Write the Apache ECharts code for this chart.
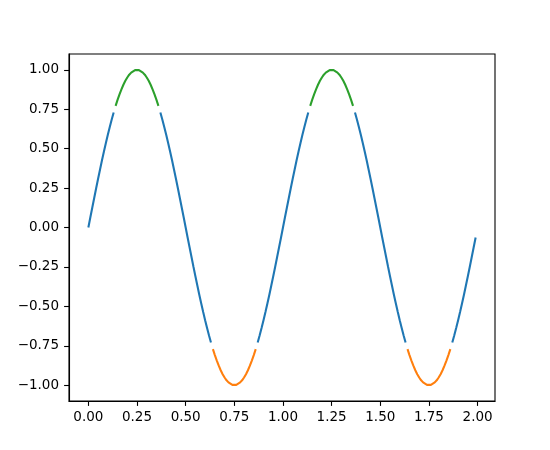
<!DOCTYPE html>
<html>
<head>
<meta charset="utf-8">
<script src="https://cdn.jsdelivr.net/npm/echarts@6/dist/echarts.min.js"></script>
<style>
  html, body { margin: 0; padding: 0; background: #fff; }
</style>
</head>
<body>
<div id="chart" style="width: 550px; height: 450px;"></div>
<script>
// t values (0 .. 1.99 in steps of 0.01)
const t = [
  0.00, 0.01, 0.02, 0.03, 0.04, 0.05, 0.06, 0.07, 0.08, 0.09,
  0.10, 0.11, 0.12, 0.13, 0.14, 0.15, 0.16, 0.17, 0.18, 0.19,
  0.20, 0.21, 0.22, 0.23, 0.24, 0.25, 0.26, 0.27, 0.28, 0.29,
  0.30, 0.31, 0.32, 0.33, 0.34, 0.35, 0.36, 0.37, 0.38, 0.39,
  0.40, 0.41, 0.42, 0.43, 0.44, 0.45, 0.46, 0.47, 0.48, 0.49,
  0.50, 0.51, 0.52, 0.53, 0.54, 0.55, 0.56, 0.57, 0.58, 0.59,
  0.60, 0.61, 0.62, 0.63, 0.64, 0.65, 0.66, 0.67, 0.68, 0.69,
  0.70, 0.71, 0.72, 0.73, 0.74, 0.75, 0.76, 0.77, 0.78, 0.79,
  0.80, 0.81, 0.82, 0.83, 0.84, 0.85, 0.86, 0.87, 0.88, 0.89,
  0.90, 0.91, 0.92, 0.93, 0.94, 0.95, 0.96, 0.97, 0.98, 0.99,
  1.00, 1.01, 1.02, 1.03, 1.04, 1.05, 1.06, 1.07, 1.08, 1.09,
  1.10, 1.11, 1.12, 1.13, 1.14, 1.15, 1.16, 1.17, 1.18, 1.19,
  1.20, 1.21, 1.22, 1.23, 1.24, 1.25, 1.26, 1.27, 1.28, 1.29,
  1.30, 1.31, 1.32, 1.33, 1.34, 1.35, 1.36, 1.37, 1.38, 1.39,
  1.40, 1.41, 1.42, 1.43, 1.44, 1.45, 1.46, 1.47, 1.48, 1.49,
  1.50, 1.51, 1.52, 1.53, 1.54, 1.55, 1.56, 1.57, 1.58, 1.59,
  1.60, 1.61, 1.62, 1.63, 1.64, 1.65, 1.66, 1.67, 1.68, 1.69,
  1.70, 1.71, 1.72, 1.73, 1.74, 1.75, 1.76, 1.77, 1.78, 1.79,
  1.80, 1.81, 1.82, 1.83, 1.84, 1.85, 1.86, 1.87, 1.88, 1.89,
  1.90, 1.91, 1.92, 1.93, 1.94, 1.95, 1.96, 1.97, 1.98, 1.99
];

// signal values
const s = [
  0, 0.063, 0.125, 0.187, 0.249, 0.309, 0.368, 0.426, 0.482, 0.536, 0.588, 0.637, 0.685, 0.729, 0.771, 0.809, 0.844, 0.876, 0.905, 0.930, 0.951, 0.969, 0.982, 0.992, 0.998,
  1, 0.998, 0.992, 0.982, 0.969, 0.951, 0.930, 0.905, 0.876, 0.844, 0.809, 0.771, 0.729, 0.685, 0.637, 0.588, 0.536, 0.482, 0.426, 0.368, 0.309, 0.249, 0.187, 0.125, 0.063,
  0, -0.063, -0.125, -0.187, -0.249, -0.309, -0.368, -0.426, -0.482, -0.536, -0.588, -0.637, -0.685, -0.729, -0.771, -0.809, -0.844, -0.876, -0.905, -0.930, -0.951, -0.969, -0.982, -0.992, -0.998,
  -1, -0.998, -0.992, -0.982, -0.969, -0.951, -0.930, -0.905, -0.876, -0.844, -0.809, -0.771, -0.729, -0.685, -0.637, -0.588, -0.536, -0.482, -0.426, -0.368, -0.309, -0.249, -0.187, -0.125, -0.063,
  0, 0.063, 0.125, 0.187, 0.249, 0.309, 0.368, 0.426, 0.482, 0.536, 0.588, 0.637, 0.685, 0.729, 0.771, 0.809, 0.844, 0.876, 0.905, 0.930, 0.951, 0.969, 0.982, 0.992, 0.998,
  1, 0.998, 0.992, 0.982, 0.969, 0.951, 0.930, 0.905, 0.876, 0.844, 0.809, 0.771, 0.729, 0.685, 0.637, 0.588, 0.536, 0.482, 0.426, 0.368, 0.309, 0.249, 0.187, 0.125, 0.063,
  0, -0.063, -0.125, -0.187, -0.249, -0.309, -0.368, -0.426, -0.482, -0.536, -0.588, -0.637, -0.685, -0.729, -0.771, -0.809, -0.844, -0.876, -0.905, -0.930, -0.951, -0.969, -0.982, -0.992, -0.998,
  -1, -0.998, -0.992, -0.982, -0.969, -0.951, -0.930, -0.905, -0.876, -0.844, -0.809, -0.771, -0.729, -0.685, -0.637, -0.588, -0.536, -0.482, -0.426, -0.368, -0.309, -0.249, -0.187, -0.125, -0.063
];

const upper = 0.77
const lower = -0.77

const xTicks = [0, 0.25, 0.5, 0.75, 1.0, 1.25, 1.5, 1.75, 2.0]
const yTicks = [-1.0, -0.75, -0.5, -0.25, 0, 0.25, 0.5, 0.75, 1.0]

let middle = []
let low = []
let high = []
for (let i = 0; i < t.length; i++) {
    const v = s[i]
    middle.push([t[i], (v < lower || v > upper) ? null : v])
    low.push([t[i], v > lower ? null : v])
    high.push([t[i], v < upper ? null : v])
}

const fmt = v => {
    const str = Math.abs(v).toFixed(2)
    return v < 0 ? '\u2212' + str : str
}

const chart = echarts.init(document.getElementById('chart'))
const labelStyle = {
    color: '#000',
    fontFamily: 'DejaVu Sans',
    fontSize: 13.5
}

const option = {
    animation: false,
    backgroundColor: '#fff',
    grid: {
        left: 69,
        right: 55,
        top: 54,
        bottom: 49,
        show: true,
        borderColor: '#000',
        borderWidth: 1.1
    },
    xAxis: {
        type: 'value',
        min: -0.0995,
        max: 2.0895,
        splitLine: { show: false },
        axisLine: { onZero: false, lineStyle: { color: '#000', width: 1.1 } },
        axisTick: { customValues: xTicks, length: 4.9, lineStyle: { color: '#000', width: 1.1 } },
        axisLabel: Object.assign({ customValues: xTicks, margin: 9, formatter: fmt }, labelStyle)
    },
    yAxis: {
        type: 'value',
        min: -1.1,
        max: 1.1,
        splitLine: { show: false },
        axisLine: { show: true, onZero: false, lineStyle: { color: '#000', width: 1.1 } },
        axisTick: { show: true, customValues: yTicks, length: 4.9, lineStyle: { color: '#000', width: 1.1 } },
        axisLabel: Object.assign({ customValues: yTicks, margin: 10, formatter: fmt }, labelStyle)
    },
    series: [
        {
            name: 'middle',
            type: 'line',
            data: middle,
            showSymbol: false,
            connectNulls: false,
            lineStyle: { color: '#1f77b4', width: 2.08 }
        },
        {
            name: 'lower',
            type: 'line',
            data: low,
            showSymbol: false,
            connectNulls: false,
            lineStyle: { color: '#ff7f0e', width: 2.08 }
        },
        {
            name: 'upper',
            type: 'line',
            data: high,
            showSymbol: false,
            connectNulls: false,
            lineStyle: { color: '#2ca02c', width: 2.08 }
        }
    ]
}

chart.setOption(option)
</script>
</body>
</html>
